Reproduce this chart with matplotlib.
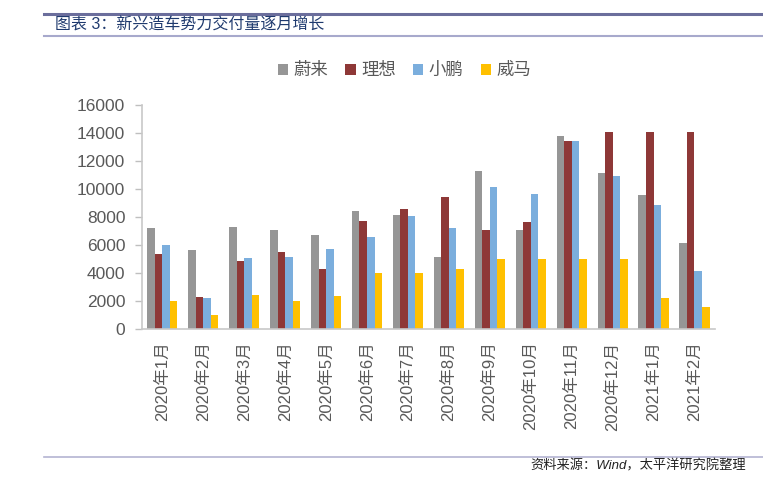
import numpy as np
import matplotlib.pyplot as plt
from matplotlib.lines import Line2D

plt.rcParams['font.family'] = ['Liberation Sans', 'Noto Sans CJK SC', 'DejaVu Sans']

# data
months = ['2020年1月', '2020年2月', '2020年3月', '2020年4月', '2020年5月', '2020年6月',
          '2020年7月', '2020年8月', '2020年9月', '2020年10月', '2020年11月', '2020年12月',
          '2021年1月', '2021年2月']
nio = [7200, 5600, 7260, 7090, 6740, 8430, 8160, 5160, 11290, 7090, 13760, 11160, 9590, 6140]
li = [5360, 2290, 4860, 5520, 4310, 7690, 8570, 9430, 7090, 7620, 13450, 14070, 14070, 14070]
xpeng = [6000, 2210, 5090, 5160, 5710, 6550, 8050, 7210, 10140, 9660, 13450, 10930, 8880, 4140]
weltmeister = [2020, 1020, 2450, 2020, 2380, 4020, 4020, 4310, 4970, 5020, 5020, 5020, 2210, 1540]

series = [('蔚来', nio, '#969696'), ('理想', li, '#8E3837'),
          ('小鹏', xpeng, '#7BAEDD'), ('威马', weltmeister, '#FFC000')]

fig = plt.figure(figsize=(7.63, 4.83), dpi=100)
ax = fig.add_axes([0.186, 0.319, 0.751, 0.464])

x = np.arange(len(months))
w = 0.184
for i, (name, vals, col) in enumerate(series):
    ax.bar(x + (i - 1.5) * w, vals, width=w, color=col, label=name, zorder=2)

ax.set_xlim(-0.5, len(months) - 0.5)
ax.set_ylim(0, 16000)
ax.set_yticks(range(0, 16001, 2000))
ax.set_xticks(x)
ax.set_xticklabels(months, rotation=90, fontsize=12, color='#595959')
ax.tick_params(axis='y', labelsize=12.5, labelcolor='#595959', color='#BFBFBF',
               length=5, width=1, pad=7)
ax.tick_params(axis='x', length=0, pad=9)
for s in ['top', 'right']:
    ax.spines[s].set_visible(False)
for s in ['left', 'bottom']:
    ax.spines[s].set_color('#C8C8C8')
    ax.spines[s].set_linewidth(1.2)

leg = fig.legend(loc='center', bbox_to_anchor=(0.53, 0.855), ncol=4, frameon=False,
                 fontsize=12.5, handlelength=0.6, handleheight=0.6, handletextpad=0.3,
                 columnspacing=1.0)
for t in leg.get_texts():
    t.set_color('#595959')

# header and footer decorations
fig.add_artist(Line2D([44 / 763, 1], [1 - 14 / 483] * 2, color='#6B6E9C', lw=2.2))
fig.add_artist(Line2D([44 / 763, 1], [1 - 36 / 483] * 2, color='#A7A9CC', lw=1.5))
fig.add_artist(Line2D([44 / 763, 1], [1 - 457 / 483] * 2, color='#B4B4D2', lw=1.2))
fig.text(55 / 763, 1 - 25 / 483, '图表 3：新兴造车势力交付量逐月增长', fontsize=11.5,
         color='#1F3A6E', va='center', ha='left')
fig.text(746 / 763, 1 - 466 / 483, '资料来源：Wind，太平洋研究院整理', fontsize=9.5,
         color='#222222', va='center', ha='right', style='italic')

fig.savefig('out.png', dpi=100)
